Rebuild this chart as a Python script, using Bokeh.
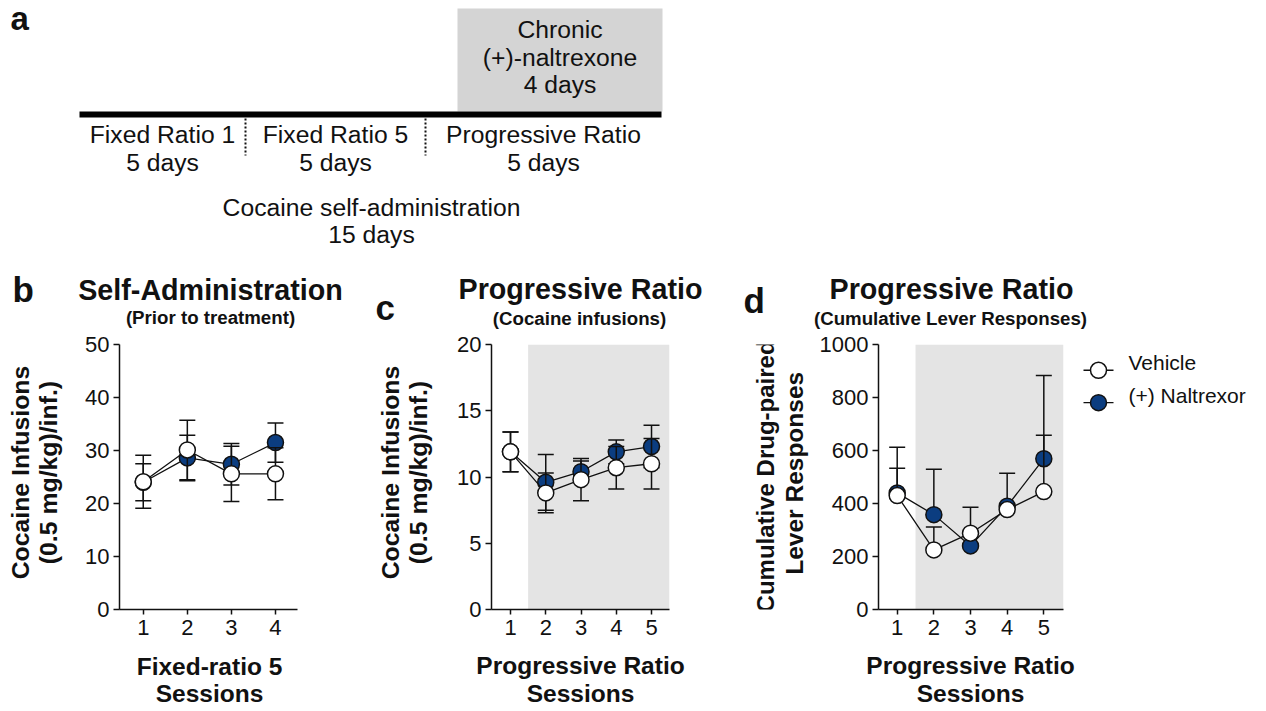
import math
from bokeh.plotting import figure
from bokeh.layouts import column, row
from bokeh.models import Range1d, BoxAnnotation, FixedTicker
from bokeh.core.properties import value
from bokeh.embed import file_html
from bokeh.resources import INLINE

# ---------------- data ----------------
fr5_sessions = [1, 2, 3, 4]
b_vehicle = [24.1, 30.1, 25.6, 25.6]
b_vehicle_sem = [5.0, 5.6, 5.2, 4.9]
b_nal = [24.0, 28.6, 27.4, 31.5]
b_nal_sem = [3.5, 4.3, 3.9, 3.7]

pr_sessions = [1, 2, 3, 4, 5]
c_vehicle = [11.9, 8.8, 9.8, 10.7, 11.0]
c_vehicle_sem = [1.5, 1.5, 1.6, 1.6, 1.9]
c_nal = [11.9, 9.6, 10.4, 11.9, 12.3]
c_nal_sem = [1.5, 2.1, 0.8, 0.9, 1.6]

d_vehicle = [430, 225, 288, 377, 445]
d_vehicle_sem = [103, 86, 98, 20, 213]
d_nal = [440, 358, 240, 390, 569]
d_nal_sem = [172, 171, 45, 124, 314]

b_yticks = [0, 10, 20, 30, 40, 50]
c_yticks = [0, 5, 10, 15, 20]
d_yticks = [0, 200, 400, 600, 800, 1000]

phase_names = ["Fixed Ratio 1", "Fixed Ratio 5", "Progressive Ratio"]
phase_days = ["5 days", "5 days", "5 days"]
treatment_lines = ["Chronic", "(+)-naltrexone", "4 days"]
overall_lines = ["Cocaine self-administration", "15 days"]
series_names = ["Vehicle", "(+) Naltrexor"]

# ---------------- style ----------------
FONT = "Liberation Sans"
INK = "#111111"
BLUE = "#0b3d80"
SHADE = "#e4e4e4"
BOX = "#d4d4d4"

# page layout (pixels)
ROW_TOP = 258
HEAD_B = 332           # header bottom / plot figure top
FT, FB = 344, 609      # frame top / bottom
PLOT_B = 651           # plot figure bottom / footer top
PAGE_B = 708


def canvas(x0, x1, y0, y1):
    p = figure(width=x1 - x0, height=y1 - y0, x_range=Range1d(x0, x1),
               y_range=Range1d(y1, y0), x_axis_type=None, y_axis_type=None,
               output_backend="svg", toolbar_location=None, min_border=0)
    p.outline_line_color = None
    return p


def txt(p, x, y, t, size, bold=False, align="center", angle=0.0, baseline="alphabetic"):
    """Place text so that its baseline (or middle) lands at page pixel (x, y)."""
    px = float(size.replace("px", ""))
    if angle:
        x, y = x - 0.45 * px, y + 0.45 * px
    elif baseline == "middle":
        y = y - 0.43 * px
    else:
        y = y - 0.37 * px
    p.text(x=[x], y=[y], text=[t], angle=angle, text_font=value(FONT),
           text_font_size=size, text_font_style="bold" if bold else "normal",
           text_align=align, text_baseline=baseline, text_color=INK)


# ---------------- panel a (timeline schematic) ----------------
pa = canvas(0, 1260, 0, ROW_TOP)
bounds = [79, 245, 425, 661]          # phase boundaries on the schematic
box_l, box_r, box_t, bar_y = 457, 662, 8, 114
pa.quad(left=[box_l], right=[box_r], top=[box_t], bottom=[bar_y - 3],
        fill_color=BOX, line_color=None)
pa.line([bounds[0], bounds[-1]], [bar_y, bar_y], line_width=6, line_color="black")
pa.segment(x0=bounds[1:-1], y0=[118] * 2, x1=bounds[1:-1], y1=[155] * 2,
           line_dash="2 2", line_width=2, line_color=INK)
for i, (nm, dy) in enumerate(zip(phase_names, phase_days)):
    cx = (bounds[i] + bounds[i + 1]) / 2
    txt(pa, cx, 142.7, nm, "24.7px")
    txt(pa, cx, 171.5, dy, "24.7px")
bc = (box_l + box_r) / 2
for yy, t in zip([38.5, 66, 93.5], treatment_lines):
    txt(pa, bc, yy, t, "24.7px")
for yy, t in zip([216, 243], overall_lines):
    txt(pa, 371, yy, t, "24.7px")
txt(pa, 10, 30, "a", "33px", bold=True, align="left")


# ---------------- plots ----------------
def make_plot(x0, x1, fl, fr, xr, yr, yticks, xticks):
    p = figure(width=x1 - x0, height=PLOT_B - HEAD_B, x_range=Range1d(*xr),
               y_range=Range1d(*yr), output_backend="svg", toolbar_location=None,
               min_border_left=fl - x0, min_border_right=x1 - fr,
               min_border_top=FT - HEAD_B, min_border_bottom=PLOT_B - FB)
    p.outline_line_color = None
    p.xgrid.visible = False
    p.ygrid.visible = False
    for ax in (p.xaxis[0], p.yaxis[0]):
        ax.axis_line_width = 1.5
        ax.axis_line_color = INK
        ax.major_tick_line_width = 1.5
        ax.major_tick_line_color = INK
        ax.minor_tick_line_color = None
        ax.major_tick_in = 0
        ax.major_label_text_font = FONT
        ax.major_label_text_font_size = "22px"
        ax.major_label_text_color = INK
    p.yaxis.ticker = FixedTicker(ticks=yticks)
    p.xaxis.ticker = FixedTicker(ticks=xticks)
    p.yaxis.major_tick_out = 6
    p.yaxis.major_label_standoff = 4
    p.xaxis.major_tick_out = 5
    p.xaxis.major_label_standoff = 5
    return p


def draw_series(p, xs, ys, sem, fill, both=True):
    p.line(xs, ys, line_color=INK, line_width=1.3)
    up = [y + s for y, s in zip(ys, sem)]
    lo = [y - s for y, s in zip(ys, sem)] if both else list(ys)
    p.segment(x0=xs, y0=lo, x1=xs, y1=up, line_color=INK, line_width=1.5)
    p.scatter(xs, up, marker="dash", size=16, line_color=INK, line_width=1.5)
    if both:
        p.scatter(xs, lo, marker="dash", size=16, line_color=INK, line_width=1.5)
    p.scatter(xs, ys, marker="circle", size=16, fill_color=fill,
              line_color=INK, line_width=1.5)


def shade(p):
    p.add_layout(BoxAnnotation(left=1.5, fill_color=SHADE, fill_alpha=1.0,
                               line_color=None, level="underlay"))


TITLE, SUB, YLAB, XLAB, LET = "28.7px", "18.7px", "24.8px", "24.5px", "35px"

# ---- panel b ----
hb = canvas(0, 370, ROW_TOP, HEAD_B)
txt(hb, 12, 302, "b", LET, bold=True, align="left")
txt(hb, 210, 300, "Self-Administration", TITLE, bold=True)
txt(hb, 210, 324, "(Prior to treatment)", SUB, bold=True)
yb = canvas(0, 72, HEAD_B, PLOT_B)
txt(yb, 31, 475, "Cocaine Infusions", YLAB, bold=True, angle=math.pi / 2)
txt(yb, 59, 475, "(0.5 mg/kg)/inf.)", YLAB, bold=True, angle=math.pi / 2)
pb = make_plot(72, 370, 119, 297, (0.461, 4.5), (0, 50), b_yticks, fr5_sessions)
draw_series(pb, fr5_sessions, b_nal, b_nal_sem, BLUE)
draw_series(pb, fr5_sessions, b_vehicle, b_vehicle_sem, "white")
fb = canvas(0, 370, PLOT_B, PAGE_B)
txt(fb, 209, 675, "Fixed-ratio 5", XLAB, bold=True)
txt(fb, 209, 702, "Sessions", XLAB, bold=True)
panel_b = column(hb, row(yb, pb), fb)

# ---- panel c ----
hc = canvas(370, 705, ROW_TOP, HEAD_B)
txt(hc, 375, 320, "c", LET, bold=True, align="left")
txt(hc, 580, 299, "Progressive Ratio", TITLE, bold=True)
txt(hc, 579, 325, "(Cocaine infusions)", SUB, bold=True)
yc = canvas(370, 440, HEAD_B, PLOT_B)
txt(yc, 401, 475, "Cocaine Infusions", YLAB, bold=True, angle=math.pi / 2)
txt(yc, 429, 475, "(0.5 mg/kg)/inf.)", YLAB, bold=True, angle=math.pi / 2)
pc = make_plot(440, 705, 491, 669, (0.461, 5.51), (0, 20), c_yticks, pr_sessions)
shade(pc)
draw_series(pc, pr_sessions, c_nal, c_nal_sem, BLUE)
draw_series(pc, pr_sessions, c_vehicle, c_vehicle_sem, "white")
fc = canvas(370, 705, PLOT_B, PAGE_B)
txt(fc, 580, 674, "Progressive Ratio", XLAB, bold=True)
txt(fc, 580, 702, "Sessions", XLAB, bold=True)
panel_c = column(hc, row(yc, pc), fc)

# ---- panel d ----
hd = canvas(705, 1260, ROW_TOP, HEAD_B)
txt(hd, 743, 313, "d", LET, bold=True, align="left")
txt(hd, 951, 299, "Progressive Ratio", TITLE, bold=True)
txt(hd, 950, 325, "(Cumulative Lever Responses)", SUB, bold=True)
yd = canvas(705, 815, HEAD_B, PLOT_B)
txt(yd, 776, 480, "Cumulative Drug-paired", "24px", bold=True, angle=math.pi / 2)
txt(yd, 805, 476, "Lever Responses", "24.5px", bold=True, angle=math.pi / 2)
pdd = make_plot(815, 1070, 878, 1063, (0.49, 5.537), (0, 1000), d_yticks, pr_sessions)
shade(pdd)
draw_series(pdd, pr_sessions, d_nal, d_nal_sem, BLUE, both=False)
draw_series(pdd, pr_sessions, d_vehicle, d_vehicle_sem, "white", both=False)

# legend (drawn beside panel d)
lg = canvas(1070, 1260, HEAD_B, PLOT_B)
leg_y = [363, 402]
leg_fill = ["white", BLUE]
lg.segment(x0=[1083] * 2, y0=leg_y, x1=[1113] * 2, y1=leg_y, line_color=INK, line_width=1.3)
lg.scatter([1098] * 2, leg_y, marker="circle", size=16, fill_color=leg_fill,
           line_color=INK, line_width=1.5)
for yy, nm in zip(leg_y, series_names):
    txt(lg, 1128, yy, nm, "21px", align="left", baseline="middle")

fd = canvas(705, 1260, PLOT_B, PAGE_B)
txt(fd, 970, 674, "Progressive Ratio", XLAB, bold=True)
txt(fd, 970, 702, "Sessions", XLAB, bold=True)
panel_d = column(hd, row(yd, pdd, lg), fd)

layout = column(pa, row(panel_b, panel_c, panel_d))
open("out.html", "w").write(file_html(layout, INLINE))
